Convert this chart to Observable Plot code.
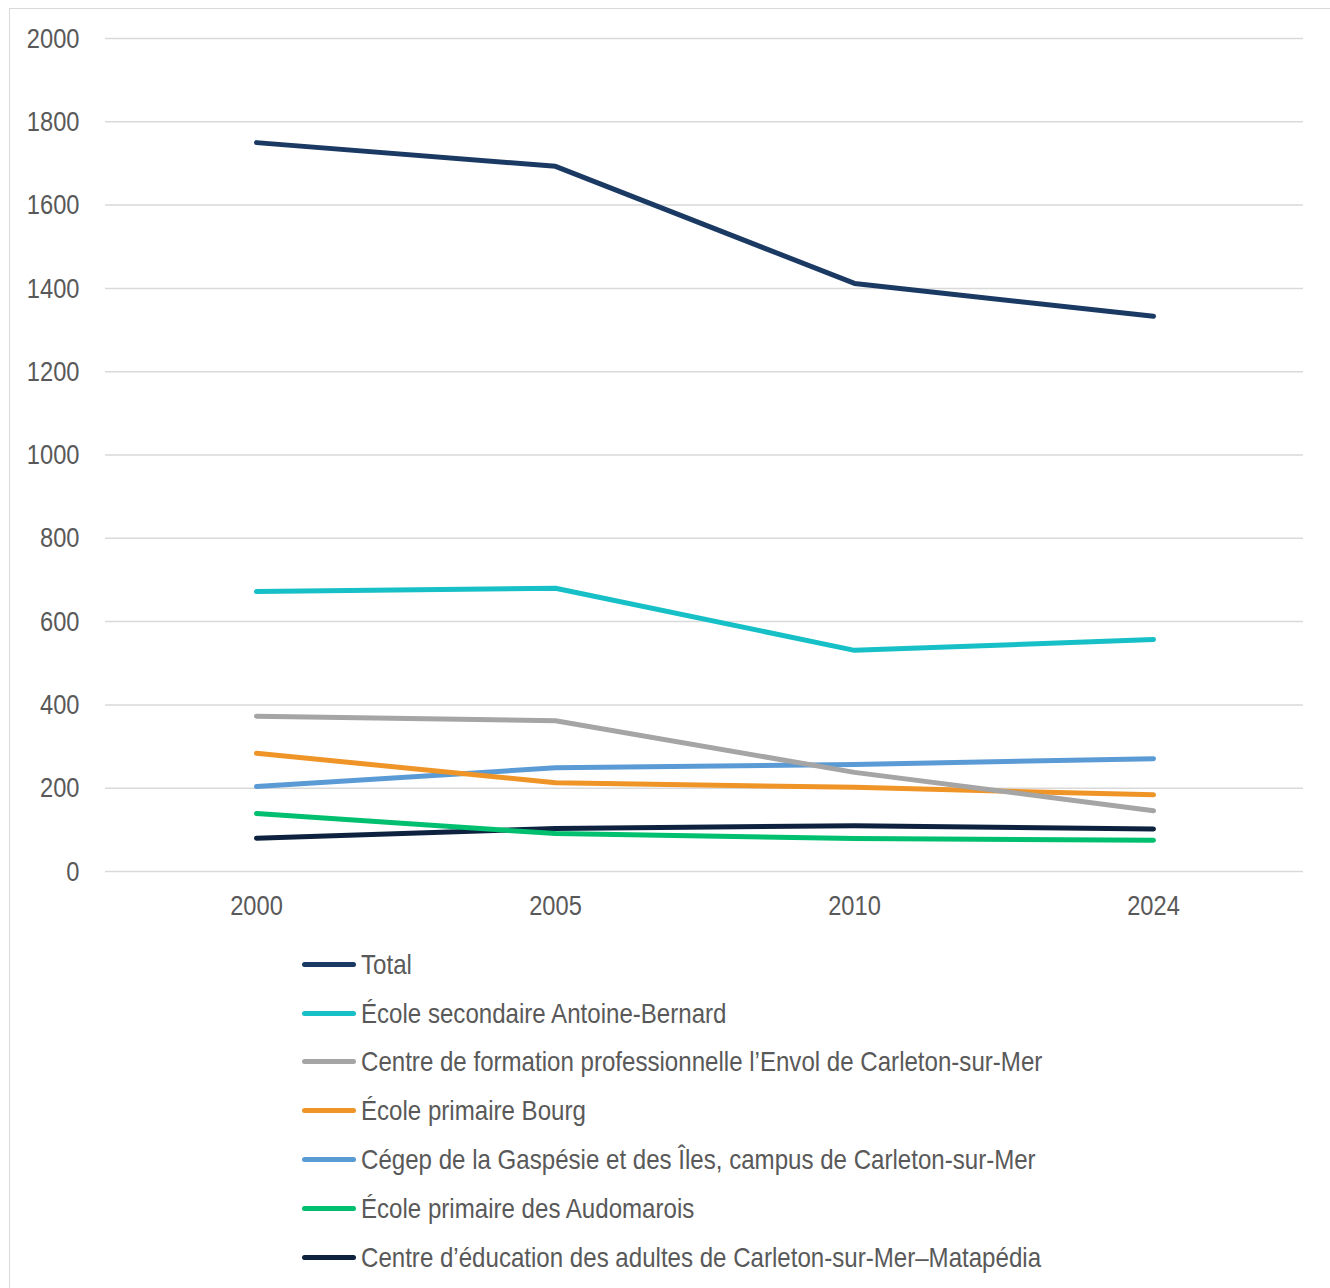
<!DOCTYPE html>
<html>
<head>
<meta charset="utf-8">
<script src="https://cdn.jsdelivr.net/npm/d3@7"></script>
<script src="https://cdn.jsdelivr.net/npm/@observablehq/plot@0.6"></script>
<style>
  html, body { margin: 0; padding: 0; background: #fff; }
  body { width: 1330px; height: 1288px; position: relative; overflow: hidden;
         font-family: 'Liberation Sans', Arial, sans-serif; }
  #frame { position: absolute; left: 9px; top: 8px; width: 1400px; height: 1400px;
           border: 1.5px solid #d9d9d9; box-sizing: border-box; }
  #chart { position: absolute; left: 0; top: 0; }
  #legend { position: absolute; left: 302px; top: 940px; }
  .item { height: 48.8px; display: flex; align-items: center; font-size: 28.5px; color: #595959; white-space: nowrap; }
  .sw { width: 54px; height: 5px; border-radius: 3px; margin-right: 5px; flex: none; }
  .lbl { display: inline-block; transform: scaleX(0.845); transform-origin: left center; }
</style>
</head>
<body>
<div id="frame"></div>
<div id="chart"></div>
<div id="legend"></div>
<script>
const years = ["2000", "2005", "2010", "2024"];
const seriesNames = [
  "Total",
  "École secondaire Antoine-Bernard",
  "Centre de formation professionnelle l’Envol de Carleton-sur-Mer",
  "École primaire Bourg",
  "Cégep de la Gaspésie et des Îles, campus de Carleton-sur-Mer",
  "École primaire des Audomarois",
  "Centre d’éducation des adultes de Carleton-sur-Mer–Matapédia"
];
const colors = ["#1b3a63", "#17bfc6", "#a5a5a5", "#ef9427", "#5b9bd5", "#00bf6f", "#0e2240"];
const total          = [1750, 1693, 1412, 1333];
const antoineBernard = [672, 680, 531, 557];
const envol          = [373, 362, 238, 146];
const bourg          = [284, 213, 202, 184];
const cegep          = [204, 249, 257, 271];
const audomarois     = [139, 91, 79, 75];
const adultes        = [80, 103, 110, 102];
const yTicks = [0, 200, 400, 600, 800, 1000, 1200, 1400, 1600, 1800, 2000];

const valuesList = [total, antoineBernard, envol, bourg, cegep, audomarois, adultes];
const data = [];
seriesNames.forEach((name, i) => {
  years.forEach((yr, j) => data.push({series: name, year: yr, value: valuesList[i][j]}));
});

const font = "'Liberation Sans', Arial, sans-serif";
const chart = Plot.plot({
  width: 1330,
  height: 930,
  marginLeft: 105,
  marginRight: 27,
  marginTop: 38,
  marginBottom: 59,
  style: {fontFamily: font, fontSize: "28.5px", color: "#595959", background: "transparent"},
  x: {type: "point", domain: years, padding: 0.5, label: null},
  y: {domain: [0, 2000], ticks: yTicks, label: null},
  color: {domain: seriesNames, range: colors},
  marks: [
    Plot.gridY(yTicks, {stroke: "#d9d9d9", strokeOpacity: 1, strokeWidth: 1.5}),
    Plot.axisY(yTicks, {tickSize: 0, tickPadding: 26, fill: "#595959", fontSize: 28.5, label: null, tickFormat: d => String(d)}),
    Plot.axisX({tickSize: 0, tickPadding: 23, fill: "#595959", fontSize: 28.5, label: null}),
    Plot.line(data.slice().reverse(), {x: "year", y: "value", z: "series", stroke: "series",
      strokeWidth: 5, strokeLinecap: "round", strokeLinejoin: "round"})
  ]
});
document.getElementById("chart").appendChild(chart);

// narrow the axis labels like Arial Narrow
chart.querySelectorAll("text").forEach(t => {
  const w = t.getComputedTextLength();
  if (w > 0) {
    t.setAttribute("textLength", (w * 0.83).toFixed(2));
    t.setAttribute("lengthAdjust", "spacingAndGlyphs");
  }
});

const legend = document.getElementById("legend");
seriesNames.forEach((name, i) => {
  const row = document.createElement("div");
  row.className = "item";
  const sw = document.createElement("div");
  sw.className = "sw";
  sw.style.background = colors[i];
  const t = document.createElement("span");
  t.className = "lbl";
  t.textContent = name;
  row.appendChild(sw);
  row.appendChild(t);
  legend.appendChild(row);
});
</script>
</body>
</html>
